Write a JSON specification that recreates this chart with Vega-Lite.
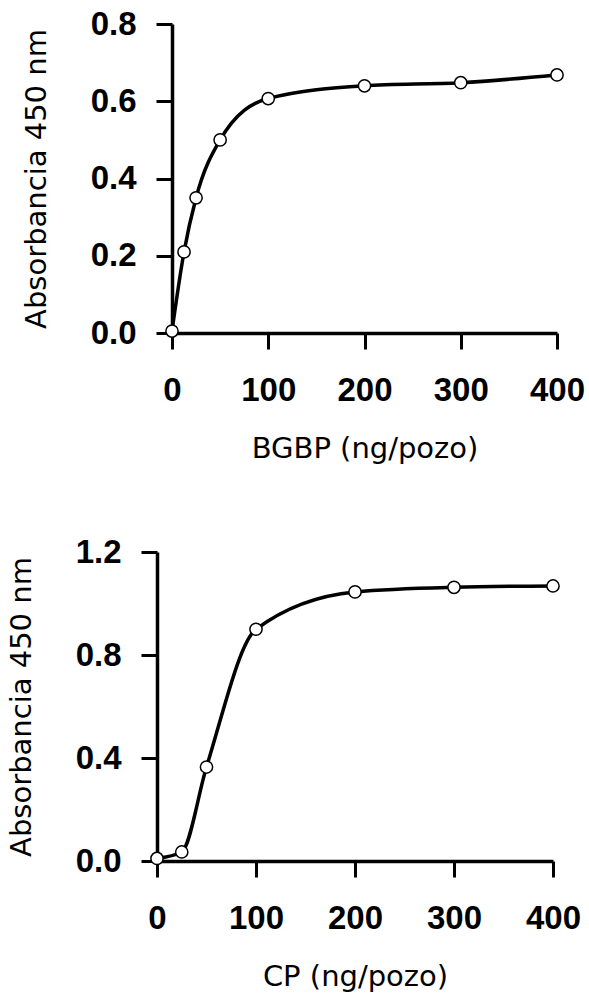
{
  "$schema": "https://vega.github.io/schema/vega-lite/v6.json",
  "background": "white",
  "padding": {"left": 7, "top": 8, "right": 5, "bottom": 5},
  "datasets": {
    "bgbp": [
      {"ng": 0, "abs": 0.005},
      {"ng": 12.5, "abs": 0.21},
      {"ng": 25, "abs": 0.35},
      {"ng": 50, "abs": 0.50},
      {"ng": 100, "abs": 0.607},
      {"ng": 200, "abs": 0.64},
      {"ng": 300, "abs": 0.648},
      {"ng": 400, "abs": 0.668}
    ],
    "cp": [
      {"ng": 0, "abs": 0.01},
      {"ng": 25, "abs": 0.035},
      {"ng": 50, "abs": 0.365},
      {"ng": 100, "abs": 0.90},
      {"ng": 200, "abs": 1.045},
      {"ng": 300, "abs": 1.063},
      {"ng": 400, "abs": 1.068}
    ]
  },
  "config": {
    "view": {"stroke": null},
    "axis": {
      "grid": false,
      "domainColor": "black",
      "domainWidth": 3.5,
      "tickColor": "black",
      "tickWidth": 3,
      "tickSize": 16,
      "labelFlush": false,
      "labelOverlap": false,
      "labelFont": "Liberation Sans",
      "labelFontWeight": "bold",
      "labelFontSize": 33,
      "labelColor": "black",
      "titleFont": "DejaVu Sans",
      "titleFontSize": 29,
      "titleFontWeight": "normal",
      "titleColor": "black"
    },
    "axisX": {"labelPadding": 25, "titlePadding": 27},
    "axisY": {"labelPadding": 20, "titlePadding": 39}
  },
  "spacing": 73,
  "vconcat": [
    {
      "width": 400,
      "height": 309,
      "data": {"name": "bgbp"},
      "encoding": {
        "x": {
          "field": "ng", "type": "quantitative",
          "scale": {"domain": [0, 400], "range": [15, 400], "nice": false},
          "axis": {"values": [0, 100, 200, 300, 400], "title": "BGBP (ng/pozo)"}
        },
        "y": {
          "field": "abs", "type": "quantitative",
          "scale": {"domain": [0, 0.8], "nice": false},
          "axis": {"values": [0, 0.2, 0.4, 0.6, 0.8], "format": ".1f", "title": "Absorbancia 450 nm", "offset": -15}
        }
      },
      "layer": [
        {"mark": {"type": "line", "interpolate": "monotone", "color": "black", "strokeWidth": 3.5}},
        {"mark": {"type": "circle", "size": 150, "fill": "white", "stroke": "black", "strokeWidth": 1.5, "opacity": 1}}
      ]
    },
    {
      "width": 396,
      "height": 309,
      "data": {"name": "cp"},
      "encoding": {
        "x": {
          "field": "ng", "type": "quantitative",
          "scale": {"domain": [0, 400], "nice": false},
          "axis": {"values": [0, 100, 200, 300, 400], "title": "CP (ng/pozo)"}
        },
        "y": {
          "field": "abs", "type": "quantitative",
          "scale": {"domain": [0, 1.2], "nice": false},
          "axis": {"values": [0, 0.4, 0.8, 1.2], "format": ".1f", "title": "Absorbancia 450 nm"}
        }
      },
      "layer": [
        {"mark": {"type": "line", "interpolate": "monotone", "color": "black", "strokeWidth": 3.5}},
        {"mark": {"type": "circle", "size": 150, "fill": "white", "stroke": "black", "strokeWidth": 1.5, "opacity": 1}}
      ]
    }
  ]
}
